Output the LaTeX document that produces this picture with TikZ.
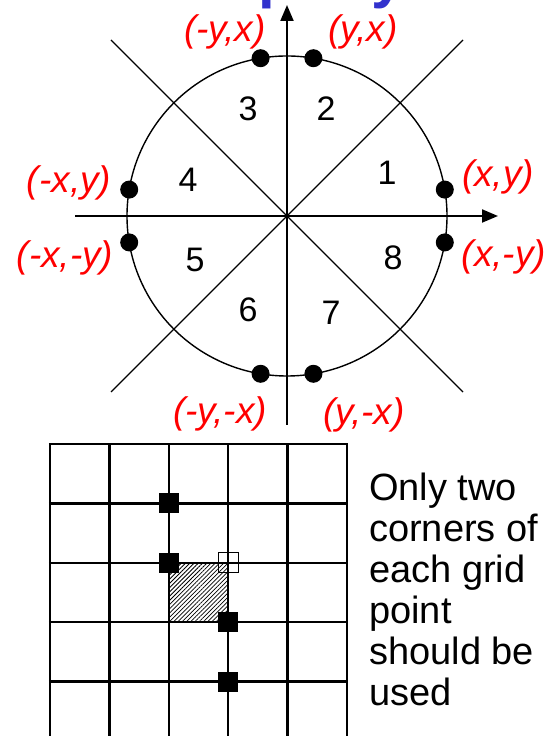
\documentclass[tikz,border=0pt]{standalone}
\usepackage{fontspec}
\setmainfont{Liberation Sans}
\usetikzlibrary{arrows.meta,patterns.meta,calc}
\definecolor{titleblue}{RGB}{50,50,205}
\begin{document}
\begin{tikzpicture}[x=1pt,y=1pt,
    lbl/.style={text=red,font=\fontsize{37}{37}\selectfont\itshape,inner sep=0pt},
    num/.style={font=\fontsize{34}{34}\selectfont,inner sep=0pt},
    dot/.style={circle,fill=black,minimum size=18pt,inner sep=0pt},
    blk/.style={fill=black,minimum size=20pt,inner sep=0pt},
    opn/.style={draw=black,line width=1.2pt,minimum size=20pt,inner sep=0pt},
    gridline/.style={line width=2.4pt}]
	\useasboundingbox (0,0) rectangle (552,736);
	\clip (0,0) rectangle (552,736);
	% title, only the bottom shows
	\node[anchor=base west,text=titleblue,font=\fontsize{60}{60}\selectfont\bfseries,inner sep=0pt] (tp) at (258,739) {p};
	\node[anchor=base west,text=titleblue,font=\fontsize{60}{60}\selectfont\bfseries,inner sep=0pt] (ty) at (371,739) {y};
	% circle, octant lines and axes
	\coordinate (O) at (287,520);
	\coordinate (ne) at (463,696);
	\coordinate (sw) at (111,344);
	\coordinate (nw) at (111,696);
	\coordinate (se) at (463,344);
	\coordinate (xl) at (75,520);
	\coordinate (xr) at (498,520);
	\coordinate (yb) at (287,311);
	\coordinate (yt) at (287,731);
	\draw[line width=1.4pt] (O) circle (160);
	\draw[line width=1.3pt] (sw) -- (ne);
	\draw[line width=1.3pt] (nw) -- (se);
	\draw[line width=2pt,-{Triangle[length=16pt,width=13pt]}] (xl) -- (xr);
	\draw[line width=2pt,-{Triangle[length=16pt,width=13pt]}] (yb) -- (yt);
	\foreach \a/\n in {9.5/xy,80.5/yx,99.5/myx,170.5/mxy,189.5/mxmy,260.5/mymx,279.5/ymx,350.5/xmy}
		\node[dot] (p\n) at ($(O)+(\a:160)$) {};
	\node[lbl] (lmyx) at (225,704) {(-y,x)};
	\node[lbl] (lyx) at (363,704) {(y,x)};
	\node[lbl] (lmxy) at (69,553) {(-x,y)};
	\node[lbl] (lxy) at (498,559) {(x,y)};
	\node[lbl] (lmxmy) at (65,478) {(-x,-y)};
	\node[lbl] (lxmy) at (504,479) {(x,-y)};
	\node[lbl] (lmymx) at (220,322) {(-y,-x)};
	\node[lbl] (lymx) at (364,321) {(y,-x)};
	\node[num] (n1) at (387,563) {1};
	\node[num] (n2) at (326,627) {2};
	\node[num] (n3) at (248,627) {3};
	\node[num] (n4) at (188,556) {4};
	\node[num] (n5) at (195,476) {5};
	\node[num] (n6) at (248,426) {6};
	\node[num] (n7) at (331,423) {7};
	\node[num] (n8) at (393,478) {8};
	% pixel grid
	\fill[pattern={Lines[angle=45,distance=3pt,line width=0.8pt]}] (168.8,173.2) rectangle (228.2,113.8);
	\foreach \i in {0,...,5}
		\draw[gridline] ({50+\i*59.4},292) -- ({50+\i*59.4},-10);
	\foreach \j in {0,...,4}
		\draw[gridline] (48.8,{292-\j*59.4}) -- (348.2,{292-\j*59.4});
	\node[blk] (s1) at (168.8,232.6) {};
	\node[blk] (s2) at (168.8,173.2) {};
	\node[blk] (s3) at (228.2,113.8) {};
	\node[blk] (s4) at (228.2,54.4) {};
	\node[opn] (s5) at (228.2,173.2) {};
	\node[anchor=north west,align=left,font=\fontsize{38}{41}\selectfont,inner sep=0pt] (note) at (369,263) {Only two\\corners of\\each grid\\point\\should be\\used};
\end{tikzpicture}
\end{document}
